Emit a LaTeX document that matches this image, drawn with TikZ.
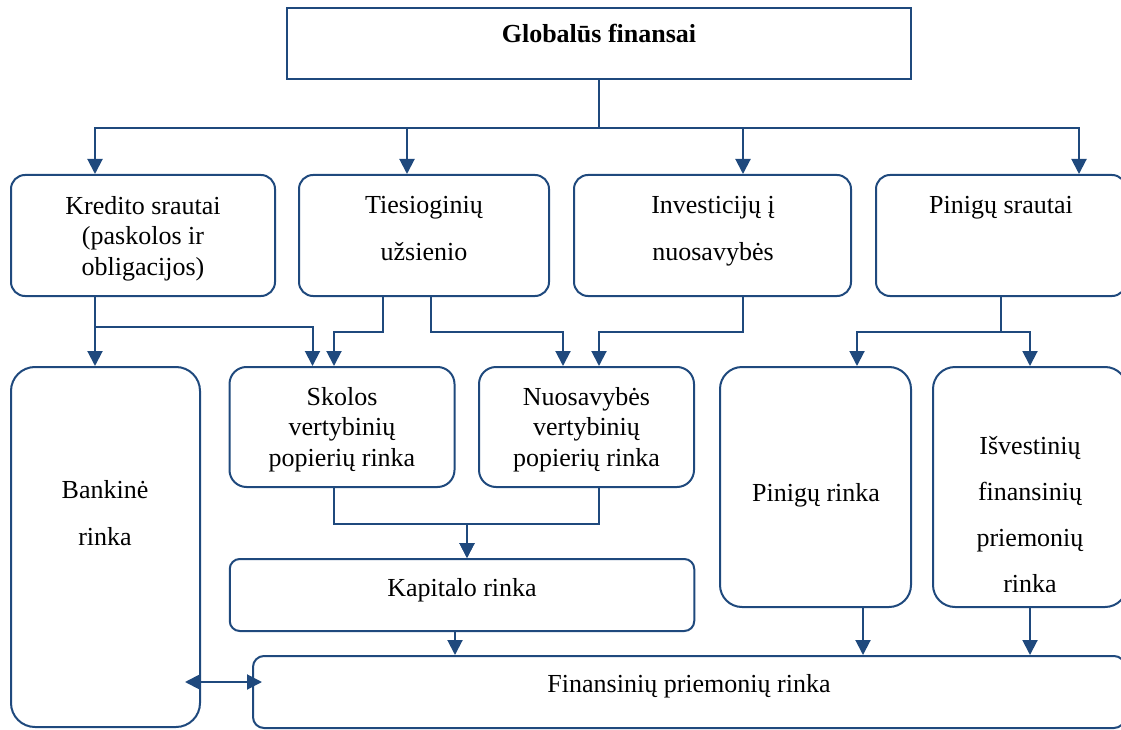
\documentclass[tikz,border=0pt]{standalone}
\usepackage{fontspec}
\setmainfont{Liberation Serif}
\usepackage{tikz}
\usetikzlibrary{arrows.meta}
\definecolor{frame}{RGB}{31,73,125}

\begin{document}
\begin{tikzpicture}[x=1pt,y=-1pt,
    box/.style={draw=frame, line width=2pt, inner sep=0pt},
    rbox/.style={box, rounded corners=#1},
    txt/.style={anchor=base, align=center, inner sep=0pt,
      font=\fontsize{26}{30.5}\selectfont},
    wide/.style={font=\fontsize{26}{47}\selectfont},
    arr/.style={draw=frame, line width=2pt,
      -{Triangle[width=15pt,length=15pt]}},
    link/.style={draw=frame, line width=2pt}]
    \useasboundingbox (0,0) rectangle (1121,730);
    \clip (0,0) rectangle (1121,730);
    \node[box, minimum width=624, minimum height=71] (glob) at (599,43.5) {}; % Globalus
\node[rbox=14, minimum width=264, minimum height=121] (kred) at (143,235.5) {}; % Kredito
\node[rbox=14, minimum width=250, minimum height=121] (ties) at (424,235.5) {}; % Tiesioginiu
\node[rbox=14, minimum width=277, minimum height=121] (inv) at (712.5,235.5) {}; % Investiciju
\node[rbox=14, minimum width=250, minimum height=121] (pin) at (1001,235.5) {}; % Pinigu srautai
\node[rbox=24, minimum width=189, minimum height=360] (bank) at (105.5,547) {}; % Bankine
\node[rbox=17, minimum width=225, minimum height=120] (skol) at (342,427) {}; % Skolos
\node[rbox=17, minimum width=215, minimum height=120] (nuos) at (586.5,427) {}; % Nuosavybes
\node[rbox=10, minimum width=464.5, minimum height=72] (kap) at (462,595) {}; % Kapitalo
\node[rbox=22, minimum width=191, minimum height=240] (pinr) at (815.5,487) {}; % Pinigu rinka
\node[rbox=22, minimum width=194, minimum height=240] (isv) at (1030,487) {}; % Isvestiniu
\node[rbox=11, minimum width=872, minimum height=72] (fin) at (689,692) {}; % Finansiniu
\node[txt] (globT) at (599,43) {\textbf{Globalūs finansai}}; % Globalus
\node[txt] (kredT) at (143,275) {Kredito srautai\\(paskolos ir\\obligacijos)}; % Kredito
\node[txt, wide] (tiesT) at (424,260) {Tiesioginių\\užsienio}; % Tiesioginiu
\node[txt, wide] (invT) at (713,260) {Investicijų į\\nuosavybės}; % Investiciju
\node[txt] (pinT) at (1001,213) {Pinigų srautai}; % Pinigu srautai
\node[txt, wide] (bankT) at (105,545) {Bankinė\\rinka}; % Bankine
\node[txt] (skolT) at (342,466) {Skolos\\vertybinių\\popierių rinka}; % Skolos
\node[txt] (nuosT) at (586.5,466) {Nuosavybės\\vertybinių\\popierių rinka}; % Nuosavybes
\node[txt] (kapT) at (462,596) {Kapitalo rinka}; % Kapitalo
\node[txt] (pinrT) at (816,501) {Pinigų rinka}; % Pinigu rinka
\node[txt, font=\fontsize{26}{46}\selectfont] (isvT) at (1030,592) {Išvestinių\\finansinių\\priemonių\\rinka}; % Isvestiniu
\node[txt] (finT) at (689,692) {Finansinių priemonių rinka}; % Finansiniu
\draw[arr] (glob.south) -- ++(0,48) -| ([xshift=-48]kred.north); % glob-kred
\draw[arr] (glob.south) -- ++(0,48) -| ([xshift=-17]ties.north); % glob-ties
\draw[arr] (glob.south) -- ++(0,48) -| ([xshift=30.5]inv.north); % glob-inv
\draw[arr] (glob.south) -- ++(0,48) -| ([xshift=78]pin.north); % glob-pin
\draw[arr] ([xshift=-48]kred.south) -- ([xshift=-10.5]bank.north); % kred-bank
\draw[arr] ([xshift=-48]kred.south) -- ++(0,30) -| ([xshift=-29.5]skol.north); % kred-skol
\draw[arr] ([xshift=-41]ties.south) -- ++(0,35) -| ([xshift=-8]skol.north); % ties-skol
\draw[arr] ([xshift=7]ties.south) -- ++(0,35) -| ([xshift=-23.5]nuos.north); % ties-nuos
\draw[arr] ([xshift=30.5]inv.south) -- ++(0,35) -| ([xshift=12.5]nuos.north); % inv-nuos
\draw[arr] (pin.south) -- ++(0,35) -| ([xshift=41.5]pinr.north); % pin-pinr
\draw[arr] (pin.south) -- ++(0,35) -| (isv.north); % pin-isv
\draw[arr] ([xshift=-8]skol.south) -- ++(0,36) -| ([xshift=5]kap.north); % skol-kap
\draw[arr] ([xshift=12.5]nuos.south) -- ++(0,36) -| ([xshift=5]kap.north); % nuos-kap
\draw[arr] ([xshift=-7]kap.south) -- ([xshift=-234]fin.north); % kap-fin
\draw[arr] ([xshift=47.5]pinr.south) -- ([xshift=174]fin.north); % pinr-fin
\draw[arr] (isv.south) -- ([xshift=341]fin.north); % isv-fin
\coordinate (dd) at ([yshift=10pt]fin.west);
\draw[arr, {Triangle[width=15pt,length=15pt]}-{Triangle[width=15pt,length=15pt]},
    shorten <=-16pt, shorten >=-10pt] (dd -| bank.east) -- (dd); % bank-fin

    \end{tikzpicture}
\end{document}
